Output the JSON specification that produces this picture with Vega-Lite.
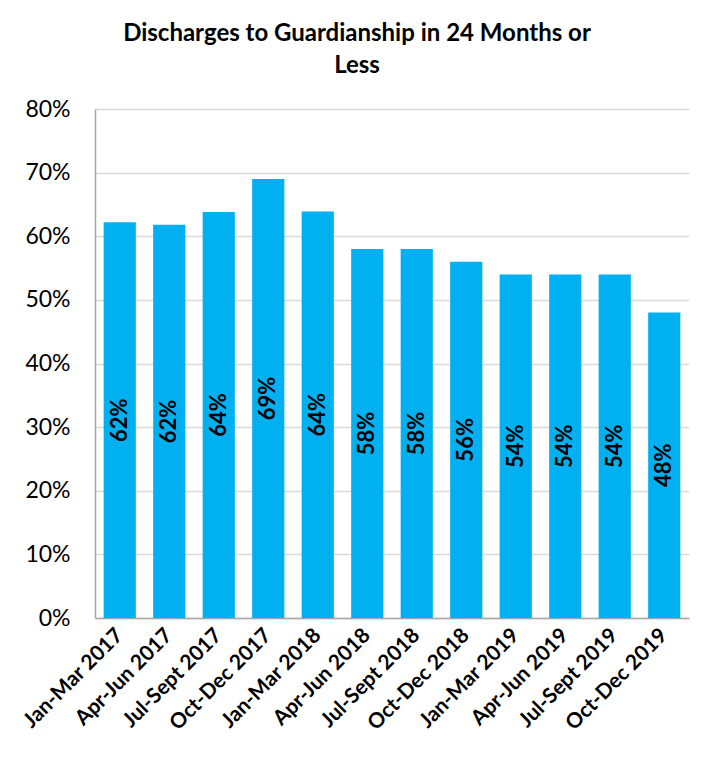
{
  "$schema": "https://vega.github.io/schema/vega-lite/v6.json",
  "width": 594,
  "height": 509,
  "autosize": {"type": "none"},
  "padding": {"left": 95, "top": 109, "right": 23, "bottom": 145},
  "background": "white",
  "title": {
    "text": ["Discharges to Guardianship in 24 Months or", "Less"],
    "font": "Lato",
    "fontSize": 24,
    "fontWeight": "bold",
    "color": "black",
    "anchor": "middle",
    "dx": -35,
    "offset": 20,
    "lineHeight": 32
  },
  "data": {
    "values": [
      {"period": "Jan-Mar 2017", "value": 0.622, "label": "62%"},
      {"period": "Apr-Jun 2017", "value": 0.618, "label": "62%"},
      {"period": "Jul-Sept 2017", "value": 0.638, "label": "64%"},
      {"period": "Oct-Dec 2017", "value": 0.69, "label": "69%"},
      {"period": "Jan-Mar 2018", "value": 0.639, "label": "64%"},
      {"period": "Apr-Jun 2018", "value": 0.58, "label": "58%"},
      {"period": "Jul-Sept 2018", "value": 0.58, "label": "58%"},
      {"period": "Oct-Dec 2018", "value": 0.56, "label": "56%"},
      {"period": "Jan-Mar 2019", "value": 0.54, "label": "54%"},
      {"period": "Apr-Jun 2019", "value": 0.54, "label": "54%"},
      {"period": "Jul-Sept 2019", "value": 0.54, "label": "54%"},
      {"period": "Oct-Dec 2019", "value": 0.48, "label": "48%"}
    ]
  },
  "encoding": {
    "x": {
      "field": "period",
      "type": "nominal",
      "sort": null,
      "scale": {"paddingInner": 0.35, "paddingOuter": 0.175},
      "axis": {
        "title": null,
        "labelAngle": -45,
        "labelAlign": "right",
        "labelBaseline": "middle",
        "labelFont": "Lato",
        "labelFontSize": 21,
        "labelFontWeight": "bold",
        "labelColor": "black",
        "labelPadding": 14,
        "labelOverlap": false,
        "ticks": false,
        "domainColor": "#a6a6a6",
        "domainWidth": 1.5
      }
    }
  },
  "layer": [
    {
      "mark": {"type": "bar", "color": "#00B0F0"},
      "encoding": {
        "y": {
          "field": "value",
          "type": "quantitative",
          "scale": {"domain": [0, 0.8]},
          "axis": {
            "title": null,
            "format": ".0%",
            "values": [0, 0.1, 0.2, 0.3, 0.4, 0.5, 0.6, 0.7, 0.8],
            "labelOverlap": false,
            "labelFont": "Lato",
            "labelFontSize": 23,
            "labelColor": "black",
            "labelPadding": 25,
            "ticks": false,
            "domainColor": "#a6a6a6",
            "domainWidth": 1.5,
            "gridColor": "#d9d9d9",
            "gridWidth": 1.5
          }
        }
      }
    },
    {
      "mark": {
        "type": "text",
        "angle": 270,
        "font": "Lato",
        "fontSize": 22,
        "fontWeight": "bold",
        "color": "black",
        "align": "center",
        "baseline": "middle"
      },
      "transform": [{"calculate": "datum.value / 2", "as": "mid"}],
      "encoding": {
        "y": {
          "field": "mid",
          "type": "quantitative",
          "axis": {
            "title": null,
            "format": ".0%",
            "values": [0, 0.1, 0.2, 0.3, 0.4, 0.5, 0.6, 0.7, 0.8],
            "labelOverlap": false,
            "labelFont": "Lato",
            "labelFontSize": 23,
            "labelColor": "black",
            "labelPadding": 25,
            "ticks": false,
            "domainColor": "#a6a6a6",
            "domainWidth": 1.5,
            "gridColor": "#d9d9d9",
            "gridWidth": 1.5
          }
        },
        "text": {"field": "label"}
      }
    }
  ],
  "config": {"view": {"stroke": null}}
}
